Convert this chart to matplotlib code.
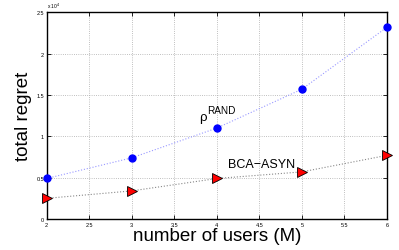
import matplotlib
matplotlib.use("Agg")
import matplotlib.pyplot as plt

plt.rcParams["font.family"] = ["Liberation Sans", "DejaVu Sans"]

users = [2, 3, 4, 5, 6]
rand_regret = [0.49, 0.74, 1.10, 1.57, 2.32]   # x 10^4
bca_regret = [0.25, 0.34, 0.49, 0.57, 0.77]    # x 10^4

fig = plt.figure(figsize=(3.99, 2.51), dpi=100)
ax = fig.add_axes([0.117, 0.1235, 0.853, 0.8235])

ax.plot(users, rand_regret, linestyle=":", color="#9999ff", linewidth=0.8,
        marker="o", markersize=5, markerfacecolor="blue", markeredgecolor="blue",
        clip_on=False, zorder=3)
ax.plot(users, bca_regret, linestyle=":", color="#888888", linewidth=0.8,
        marker=">", markersize=7, markerfacecolor="red", markeredgecolor="black",
        markeredgewidth=0.6, clip_on=False, zorder=3)

ax.set_xlim(2, 6)
ax.set_ylim(0, 2.5)
ax.set_xticks([2, 2.5, 3, 3.5, 4, 4.5, 5, 5.5, 6])
ax.set_xticklabels(["2", "2.5", "3", "3.5", "4", "4.5", "5", "5.5", "6"])
ax.set_yticks([0, 0.5, 1, 1.5, 2, 2.5])
ax.set_yticklabels(["0", "0.5", "1", "1.5", "2", "2.5"])
ax.tick_params(direction="in", length=3, width=0.6, labelsize=4, pad=2,
               top=True, right=True, colors="black")
ax.grid(True, linestyle=":", color="#aaaaaa", linewidth=0.6)
for s in ax.spines.values():
    s.set_linewidth(1.0)

ax.text(0.0, 1.01, r"x 10$^4$", transform=ax.transAxes, fontsize=3.5, va="bottom")

# labels for the two curves
ax.text(3.79, 1.20, "\u03c1", fontsize=9.5, ha="left", va="baseline")
ax.text(3.88, 1.28, "RAND", fontsize=7.2, ha="left", va="baseline")
ax.text(4.13, 0.63, "BCA\u2212ASYN", fontsize=9, ha="left", va="baseline")

ax.set_xlabel("number of users (M)", fontsize=13.5, labelpad=0)
ax.set_ylabel("total regret", fontsize=13.5, labelpad=3)

fig.savefig("out.png", dpi=100)
